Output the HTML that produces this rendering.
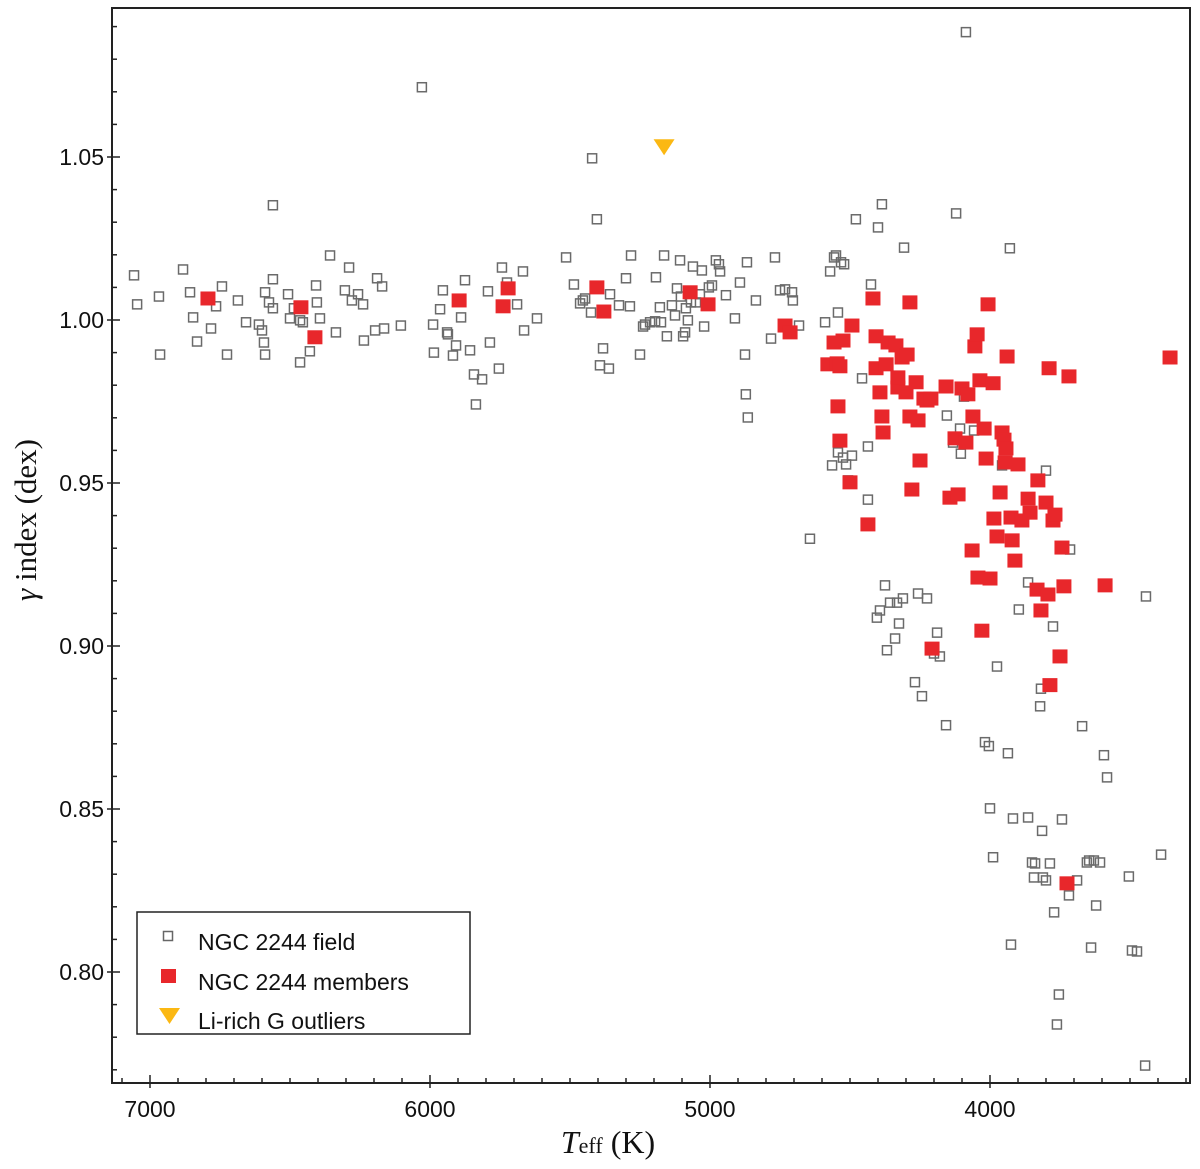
<!DOCTYPE html>
<html><head><meta charset="utf-8"><style>
body{margin:0;background:#fff}
svg{display:block}
text{font-family:"Liberation Sans",sans-serif}
</style></head><body>
<svg id="chart" width="1200" height="1169" xmlns="http://www.w3.org/2000/svg">
<g id="axes"></g>
<g id="marks"></g>
<g>
<rect x="137" y="912" width="333" height="122" fill="#fff" stroke="#222" stroke-width="1.5"/>
<rect x="163.5" y="931.5" width="9" height="9" fill="none" stroke="#666" stroke-width="1.5"/>
<text x="198" y="950" font-size="23" fill="#111">NGC 2244 field</text>
<rect x="161" y="969" width="15" height="14" fill="#e8272b"/>
<text x="198" y="990" font-size="23" fill="#111">NGC 2244 members</text>
<polygon points="159,1008 180,1008 169.5,1024" fill="#fbb813"/>
<text x="198" y="1029" font-size="23" fill="#111">Li-rich G outliers</text>
</g>
<text x="36" y="520" style="font-family:'Liberation Serif',serif;font-size:31px" transform="rotate(-90 36 520)" text-anchor="middle" fill="#111"><tspan font-style="italic">γ</tspan> index (dex)</text>
<text x="608" y="1153" style="font-family:'Liberation Serif',serif;font-size:32px" text-anchor="middle" fill="#111"><tspan font-style="italic">T</tspan><tspan style="font-size:22px">eff</tspan> (K)</text>
</svg>
<script>
const xTicks = [7000, 6000, 5000, 4000];
const yTicks = [0.80, 0.85, 0.90, 0.95, 1.00, 1.05];
const yTickLabels = ["0.80", "0.85", "0.90", "0.95", "1.00", "1.05"];
const fieldPoints = [[7057,1.0137],[7046,1.0048],[6968,1.0072],[6964,0.9894],[6882,1.0155],[6857,1.0085],[6846,1.0008],[6832,0.9934],[6782,0.9974],[6764,1.0042],[6743,1.0103],[6725,0.9894],[6686,1.0060],[6657,0.9993],[6611,0.9986],[6600,0.9968],[6593,0.9931],[6589,0.9894],[6589,1.0085],[6575,1.0054],[6561,1.0125],[6561,1.0352],[6561,1.0036],[6507,1.0079],[6500,1.0005],[6486,1.0036],[6464,0.9870],[6464,0.9999],[6454,0.9993],[6429,0.9904],[6407,1.0106],[6404,1.0054],[6393,1.0005],[6357,1.0198],[6336,0.9962],[6304,1.0091],[6289,1.0161],[6279,1.0060],[6257,1.0079],[6239,1.0048],[6236,0.9937],[6196,0.9968],[6189,1.0128],[6171,1.0103],[6164,0.9974],[6104,0.9983],[6029,1.0714],[5989,0.9986],[5986,0.9900],[5964,1.0033],[5954,1.0091],[5939,0.9962],[5936,0.9956],[5918,0.9891],[5907,0.9922],[5889,1.0008],[5875,1.0122],[5857,0.9907],[5843,0.9833],[5836,0.9741],[5814,0.9818],[5793,1.0088],[5786,0.9931],[5754,0.9851],[5743,1.0161],[5725,1.0115],[5689,1.0048],[5668,1.0149],[5664,0.9968],[5618,1.0005],[5514,1.0192],[5486,1.0109],[5464,1.0051],[5454,1.0060],[5446,1.0066],[5425,1.0023],[5421,1.0496],[5404,1.0309],[5393,0.9861],[5382,0.9913],[5361,0.9851],[5357,1.0079],[5325,1.0045],[5300,1.0128],[5286,1.0042],[5282,1.0198],[5250,0.9894],[5239,0.9980],[5232,0.9986],[5214,0.9993],[5196,0.9996],[5193,1.0131],[5179,1.0039],[5175,0.9993],[5164,1.0198],[5154,0.9950],[5136,1.0045],[5125,1.0014],[5118,1.0097],[5107,1.0183],[5104,1.0072],[5096,0.9950],[5089,0.9962],[5086,1.0036],[5079,0.9999],[5068,1.0054],[5061,1.0164],[5050,1.0054],[5036,1.0079],[5029,1.0152],[5021,0.9980],[5004,1.0100],[4993,1.0106],[4979,1.0183],[4968,1.0171],[4964,1.0149],[4943,1.0076],[4911,1.0005],[4893,1.0115],[4875,0.9894],[4868,1.0177],[4872,0.9772],[4865,0.9701],[4836,1.0060],[4782,0.9943],[4768,1.0192],[4750,1.0091],[4732,1.0094],[4707,1.0085],[4704,1.0060],[4682,0.9983],[4643,0.9329],[4589,0.9993],[4571,1.0149],[4557,1.0192],[4550,1.0198],[4543,1.0023],[4532,1.0177],[4521,1.0171],[4564,0.9554],[4543,0.9594],[4525,0.9578],[4514,0.9557],[4507,0.9508],[4493,0.9584],[4479,1.0309],[4457,0.9821],[4436,0.9612],[4436,0.9449],[4425,1.0109],[4404,0.9087],[4400,1.0284],[4393,0.9109],[4386,1.0355],[4375,0.9186],[4368,0.8987],[4357,0.9133],[4339,0.9023],[4332,0.9133],[4325,0.9069],[4311,0.9146],[4307,1.0222],[4268,0.8889],[4257,0.9161],[4243,0.8846],[4225,0.9146],[4200,0.8977],[4189,0.9041],[4179,0.8968],[4157,0.8757],[4121,1.0327],[4154,0.9707],[4132,0.9624],[4107,0.9667],[4104,0.9590],[4093,0.9765],[4086,1.0883],[4057,0.9661],[4018,0.8705],[4004,0.8693],[4000,0.8502],[3989,0.8352],[3975,0.8937],[3957,0.9554],[3936,0.8671],[3929,1.0220],[3918,0.8471],[3897,0.9112],[3864,0.8474],[3850,0.8336],[3864,0.9195],[3843,0.8290],[3839,0.8333],[3821,0.8815],[3818,0.8869],[3800,0.9538],[3811,0.8290],[3800,0.8281],[3786,0.8333],[3775,0.9060],[3814,0.8433],[3771,0.8183],[3754,0.7931],[3761,0.7839],[3743,0.8468],[3718,0.8235],[3714,0.9296],[3689,0.8281],[3671,0.8754],[3654,0.8336],[3646,0.8342],[3639,0.8075],[3629,0.8342],[3621,0.8204],[3607,0.8336],[3593,0.8665],[3582,0.8597],[3504,0.8293],[3493,0.8066],[3475,0.8063],[3446,0.7713],[3443,0.9152],[3389,0.8360],[3925,0.8084]];
const memberPoints = [[6793,1.0066],[6461,1.0039],[6411,0.9947],[5896,1.0060],[5739,1.0042],[5721,1.0097],[5404,1.0100],[5379,1.0026],[5071,1.0085],[5007,1.0048],[4732,0.9983],[4714,0.9962],[4579,0.9864],[4557,0.9931],[4546,0.9867],[4536,0.9858],[4525,0.9937],[4543,0.9735],[4536,0.9630],[4500,0.9502],[4493,0.9983],[4436,0.9373],[4418,1.0066],[4407,0.9950],[4407,0.9852],[4393,0.9778],[4386,0.9704],[4382,0.9655],[4371,0.9864],[4364,0.9931],[4336,0.9922],[4329,0.9793],[4329,0.9824],[4314,0.9885],[4300,0.9778],[4296,0.9894],[4286,1.0054],[4286,0.9704],[4279,0.9480],[4264,0.9809],[4257,0.9692],[4250,0.9569],[4236,0.9759],[4225,0.9753],[4211,0.9759],[4207,0.8992],[4157,0.9796],[4143,0.9455],[4125,0.9637],[4114,0.9465],[4100,0.9790],[4086,0.9624],[4079,0.9772],[4064,0.9293],[4061,0.9704],[4054,0.9919],[4046,0.9956],[4043,0.9210],[4036,0.9815],[4029,0.9047],[4021,0.9667],[4014,0.9575],[4007,1.0048],[4000,0.9207],[3989,0.9806],[3986,0.9391],[3975,0.9336],[3964,0.9471],[3957,0.9655],[3950,0.9633],[3943,0.9606],[3946,0.9563],[3939,0.9888],[3925,0.9394],[3921,0.9324],[3911,0.9262],[3900,0.9557],[3886,0.9385],[3864,0.9452],[3857,0.9409],[3832,0.9173],[3829,0.9508],[3818,0.9109],[3800,0.9440],[3793,0.9158],[3789,0.9852],[3786,0.8880],[3775,0.9385],[3768,0.9403],[3750,0.8968],[3743,0.9302],[3736,0.9183],[3718,0.9827],[3725,0.8272],[3589,0.9186],[3357,0.9885]];
const outlierPoints = [[5164,1.0530]];

const NS = "http://www.w3.org/2000/svg";
const L = 112, R = 1190, T = 8, B = 1083;
function sx(t){ return 150 + (7000 - t) * 0.28; }
function sy(v){ return 320 - (v - 1.00) * 3260; }
function mk(tag, attrs, parent){
  const e = document.createElementNS(NS, tag);
  for (const k in attrs) e.setAttribute(k, attrs[k]);
  parent.appendChild(e);
  return e;
}
const axes = document.getElementById('axes');
const marks = document.getElementById('marks');
const frame = mk('rect', {x:L, y:T, width:R-L, height:B-T, fill:'none', stroke:'#222', 'stroke-width':2}, axes);


for (let t = 7100; t >= 3300; t -= 100) {
  const x = sx(t);
  if (x < L || x > R) continue;
  const major = t % 1000 === 0;
  const tk = mk('line', {x1:x, x2:x, y1:B - (major?8:5), y2:B + (major?5:0), stroke:'#222', 'stroke-width':1.5}, axes);
  
  
}
xTicks.forEach(t => {
  const lb = mk('text', {x:sx(t), y:1117, 'font-size':23, 'text-anchor':'middle', fill:'#111'}, axes);
  lb.textContent = String(t);
  
  
});
for (let i = 77; i <= 109; i++) {
  const v = i / 100;
  const y = sy(v);
  if (y < T || y > B) continue;
  const major = i % 5 === 0;
  const tk = mk('line', {x1:L - (major?5:0), x2:L + (major?8:5), y1:y, y2:y, stroke:'#222', 'stroke-width':1.5}, axes);
  
  
}
yTicks.forEach((v, i) => {
  const lb = mk('text', {x:104, y:sy(v) + 8, 'font-size':23, 'text-anchor':'end', fill:'#111'}, axes);
  lb.textContent = yTickLabels[i];
  
  
});
fieldPoints.forEach(p => {
  const r = mk('rect', {x:sx(p[0]) - 4.5, y:sy(p[1]) - 4.5, width:9, height:9, fill:'none', stroke:'#6a6a6a', 'stroke-width':1.5}, marks);
  
  
});
memberPoints.forEach(p => {
  const r = mk('rect', {x:sx(p[0]) - 7.5, y:sy(p[1]) - 7, width:15, height:14, fill:'#e8272b'}, marks);
  
  
});
outlierPoints.forEach(p => {
  const x = sx(p[0]), y = sy(p[1]);
  const g = mk('polygon', {points:`${x-10.5},${y-8} ${x+10.5},${y-8} ${x},${y+8}`, fill:'#fbb813'}, marks);
  
  
});
</script>
</body></html>
